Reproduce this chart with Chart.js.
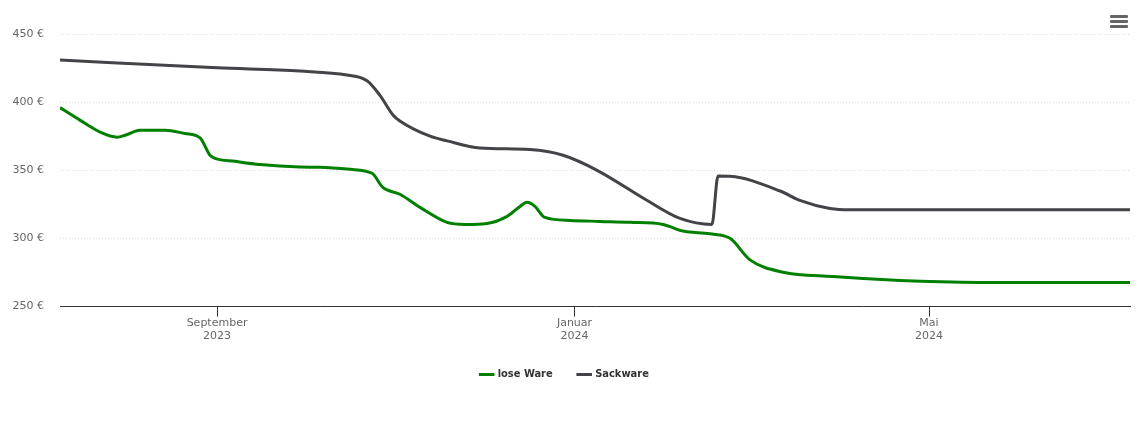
<!DOCTYPE html>
<html>
<head>
<meta charset="utf-8">
<script src="https://cdn.jsdelivr.net/npm/chart.js@4/dist/chart.umd.min.js"></script>
<style>
  body { margin: 0; background: #fff; }
  #wrap { position: relative; width: 1140px; height: 434px; }
  #menu { position: absolute; left: 1110px; top: 15px; width: 18px; }
  #menu div { height: 3px; background: #666; margin-bottom: 2px; border-radius: 1px; }
</style>
</head>
<body>
<div id="wrap">
  <canvas id="grafico" width="1140" height="434"></canvas>
  <div id="menu"><div></div><div></div><div></div></div>
</div>
<script>
// Tage seit 1. Juli 2023
const inicioDia = 8.4;
const finDia = 373.6;

const ticksDias = [62, 184, 305];
const ticksEtiquetas = [['September', '2023'], ['Januar', '2024'], ['Mai', '2024']];

const seriesNombres = ['lose Ware', 'Sackware'];

const loseDias = [8.4, 15.2, 22.1, 27.9, 30.6, 35.7, 44.2, 51.1, 56.2, 59.6, 61.3, 68.1, 76.7, 90.3, 97.1,
  107.4, 114.9, 118.6, 124.4, 131.3, 140.5, 146.6, 154.1, 161, 165.4, 167.8, 170.5, 173.9, 182.5, 192.7,
  203, 214.2, 221, 230.2, 237.1, 243.9, 255.2, 272.2, 295.1, 305.3, 329.2, 373.6];
const loseWerte = [396, 386.8, 378, 374.3, 375.7, 379.4, 379.4, 377, 373.8, 361, 358.8, 356.6, 354.2, 352.4, 352.2,
  350.7, 347.8, 337.4, 332.4, 322.8, 311.8, 310.3, 311, 316.2, 323.5, 326.5, 323.5, 315.4, 313.2, 312.5,
  311.8, 310.3, 305.4, 303.4, 300.1, 284.3, 275.2, 272, 269.1, 268.4, 267.6, 267.6];

const sackDias = [8.4, 62, 90.3, 106.3, 113.2, 117.6, 122.1, 124.4, 134.7, 140.5, 151.7, 168.8, 180.1,
  191.7, 208.7, 220, 230.9, 233, 237.1, 254.2, 260.9, 271.2, 278, 373.6];
const sackWerte = [430.9, 425.2, 422.8, 419.9, 415.7, 405, 390.4, 386.2, 375, 371.6, 366.4, 365.2, 361,
  350, 328, 314.7, 310.3, 345.8, 345.6, 334.8, 327.9, 322, 321, 321];

function armarPuntos(dias, valores) {
  return dias.map((d, i) => ({ x: d, y: valores[i] }));
}

const fuente = "'DejaVu Sans', sans-serif";
const fuenteLeyenda = "'DejaVu Sans Condensed', 'DejaVu Sans', sans-serif";

const ctx = document.getElementById('grafico');
new Chart(ctx, {
  type: 'line',
  data: {
    datasets: [{
      label: seriesNombres[0],
      data: armarPuntos(loseDias, loseWerte),
      borderColor: '#008000',
      backgroundColor: '#008000',
      borderWidth: 3,
      pointRadius: 0,
      cubicInterpolationMode: 'monotone'
    }, {
      label: seriesNombres[1],
      data: armarPuntos(sackDias, sackWerte),
      borderColor: '#434348',
      backgroundColor: '#434348',
      borderWidth: 3,
      pointRadius: 0,
      cubicInterpolationMode: 'monotone'
    }]
  },
  options: {
    responsive: false,
    animation: false,
    layout: { padding: { top: 34, right: 10, left: 0, bottom: 44 } },
    plugins: {
      tooltip: { enabled: false },
      legend: {
        position: 'bottom',
        labels: {
          usePointStyle: true,
          pointStyle: 'line',
          boxWidth: 16,
          color: '#333',
          padding: 26,
          font: { family: fuenteLeyenda, size: 11, weight: 'bold' }
        }
      }
    },
    scales: {
      x: {
        type: 'linear',
        min: inicioDia,
        max: finDia,
        afterBuildTicks: axis => { axis.ticks = ticksDias.map(v => ({ value: v })); },
        ticks: {
          color: '#666',
          font: { family: fuente, size: 11 },
          maxRotation: 0,
          padding: 0,
          callback: (v) => ticksEtiquetas[ticksDias.indexOf(v)]
        },
        grid: { drawOnChartArea: false, drawTicks: true, tickLength: 10, color: '#333' },
        border: { color: '#333', width: 1 }
      },
      y: {
        min: 250,
        max: 450,
        afterFit: axis => { axis.width = 60; },
        ticks: {
          stepSize: 50,
          color: '#666',
          padding: 16,
          font: { family: fuente, size: 11 },
          callback: v => v + ' €'
        },
        grid: { color: '#dddddd', drawTicks: false, lineWidth: 1 },
        border: { display: false, dash: [1, 2] }
      }
    }
  }
});
</script>
</body>
</html>
